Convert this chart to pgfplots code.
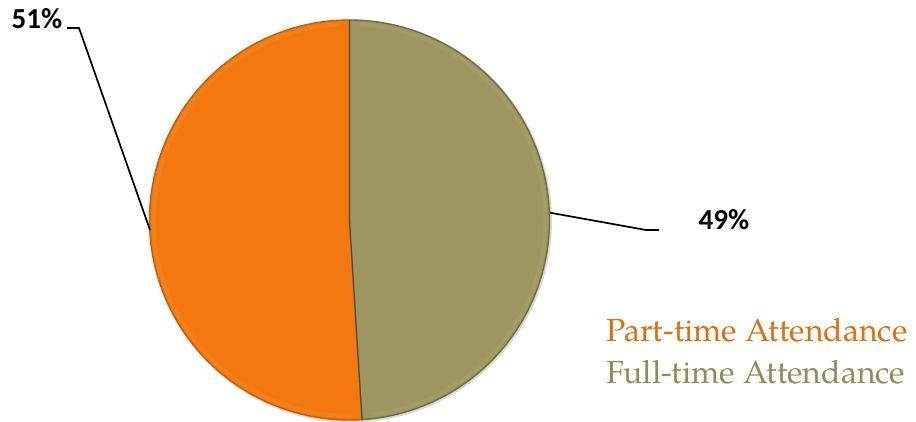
\documentclass[border=0pt]{standalone}
\usepackage{pgfplots}
\pgfplotsset{compat=1.18}
\usepackage{fontspec}
\setmainfont{TeX Gyre Pagella}
\newfontfamily\labelfont{Carlito}
\definecolor{ptfill}{RGB}{242,120,15}
\definecolor{ptedge}{RGB}{200,92,5}
\definecolor{ptlight}{RGB}{248,145,50}
\definecolor{ftfill}{RGB}{158,150,96}
\definecolor{ftedge}{RGB}{115,108,60}
\definecolor{ftlight}{RGB}{178,170,118}
\definecolor{pttext}{RGB}{228,108,10}
\definecolor{fttext}{RGB}{148,138,84}
\begin{document}
\begin{tikzpicture}
% data: Part-time 51, Full-time 49
\def\valA{51}
\def\valB{49}
\pgfmathsetmacro{\angA}{90+360*(\valA/(\valA+\valB))}
\pgfmathsetmacro{\angB}{\angA+360*(\valB/(\valA+\valB))}
\begin{axis}[hide axis, scale only axis, width=916bp, height=422bp,
  xmin=0, xmax=916, ymin=0, ymax=422, clip=false]
% soft shadow
\addplot[draw=black!15, line width=3bp, domain=0:360, samples=180, variable=\t]
  ({350.5+200*cos(t)},{201+200*sin(t)});
% wedges
\addplot[fill=ptfill, draw=ptedge, line width=1.4bp, domain=90:\angA, samples=150, variable=\t]
  ({349.5+200*cos(t)},{202+200*sin(t)}) -- (axis cs:349.5,202) -- cycle;
\addplot[fill=ftfill, draw=ftedge, line width=1.4bp, domain=\angA:\angB, samples=150, variable=\t]
  ({349.5+200*cos(t)},{202+200*sin(t)}) -- (axis cs:349.5,202) -- cycle;
% inner bevel highlight
\addplot[draw=ptlight, line width=4bp, opacity=0.35, domain=93:\angA-3, samples=120, variable=\t]
  ({349.5+196*cos(t)},{202+196*sin(t)});
\addplot[draw=ftlight, line width=4bp, opacity=0.35, domain=\angA+3:\angB-3, samples=120, variable=\t]
  ({349.5+196*cos(t)},{202+196*sin(t)});
% divider
\addplot[draw=black!70, line width=1bp] coordinates {(349.5,402) (349.5,202) ({349.5+200*cos(\angA)},{202+200*sin(\angA)})};
% leader lines
\addplot[black, line width=1.7bp] coordinates {(67,394) (79,394) (150,192)};
\addplot[black, line width=1.7bp] coordinates {(550,209.3) (646,192) (659,192)};
% labels
\node[font=\labelfont\bfseries\fontsize{29bp}{34bp}\selectfont, anchor=center] at (axis cs:37,403) {51\%};
\node[font=\labelfont\bfseries\fontsize{29bp}{34bp}\selectfont, anchor=center] at (axis cs:724,202) {49\%};
% legend
\node[font=\fontsize{32bp}{38bp}\selectfont, text=pttext, anchor=base west, inner sep=0pt] at (axis cs:606,80) {Part-time Attendance};
\node[font=\fontsize{32bp}{38bp}\selectfont, text=fttext, anchor=base west, inner sep=0pt] at (axis cs:606,38) {Full-time Attendance};
\end{axis}
\pgfresetboundingbox
\path (0,0) rectangle (916bp,422bp);
\end{tikzpicture}
\end{document}
